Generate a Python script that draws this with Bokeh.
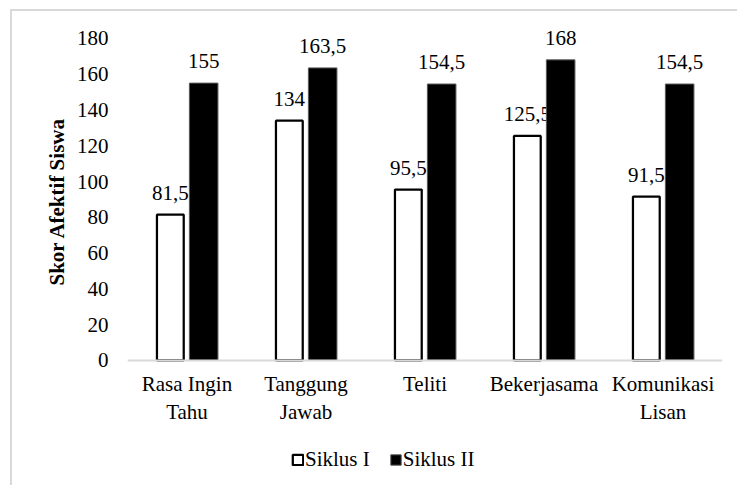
from bokeh.plotting import figure
from bokeh.models import ColumnDataSource, Range1d, FixedTicker, Legend, LegendItem, Title
from bokeh.transform import dodge
from bokeh.core.properties import value
from bokeh.embed import file_html
from bokeh.resources import INLINE

categories = ["Rasa Ingin\nTahu", "Tanggung\nJawab", "Teliti", "Bekerjasama", "Komunikasi\nLisan"]
siklus1 = [81.5, 134, 95.5, 125.5, 91.5]
siklus2 = [155, 163.5, 154.5, 168, 154.5]
series_names = ["Siklus I", "Siklus II"]
y_ticks = [0, 20, 40, 60, 80, 100, 120, 140, 160, 180]
y_title = "Skor Afektif Siswa"

def fmt(v):
    return f"{v:g}".replace(".", ",")

src = ColumnDataSource(dict(
    cat=categories, s1=siklus1, s2=siklus2,
    l1=[fmt(v) for v in siklus1], l2=[fmt(v) for v in siklus2],
))

FONT = "Liberation Serif"
FS = "21px"

p = figure(x_range=categories, y_range=Range1d(-71, 190), width=727, height=476,
           output_backend="svg", toolbar_location=None,
           min_border_left=115, min_border_right=17, min_border_top=9, min_border_bottom=0,
           styles={"border-left": "2px solid #d9d9d9", "border-top": "2px solid #d9d9d9",
                   "margin-left": "10px", "margin-top": "9px"})
p.outline_line_color = None
p.xgrid.grid_line_color = None
p.ygrid.grid_line_color = None
p.x_range.range_padding = 0

r1 = p.vbar(x=dodge("cat", -0.14, range=p.x_range), top="s1", width=0.225, source=src,
            fill_color="white", line_color="black", line_width=2.25)
p.text(x=dodge("cat", -0.14, range=p.x_range), y="s1", text="l1", source=src,
       text_font=value(FONT), text_font_size=FS, text_align="center",
       text_baseline="alphabetic", y_offset=-22, text_color="black")
r2 = p.vbar(x=dodge("cat", 0.14, range=p.x_range), top="s2", width=0.24, source=src,
            fill_color="black", line_color="#595959", line_width=1)
p.text(x=dodge("cat", 0.14, range=p.x_range), y="s2", text="l2", source=src,
       text_font=value(FONT), text_font_size=FS, text_align="center",
       text_baseline="alphabetic", y_offset=-22, text_color="black")

# y axis
ya = p.yaxis[0]
ya.ticker = FixedTicker(ticks=y_ticks)
ya.axis_line_color = None
ya.major_tick_line_color = None
ya.minor_tick_line_color = None
ya.major_tick_out = 0
ya.major_tick_in = 0
ya.major_label_standoff = 19
ya.major_label_text_font = FONT
ya.major_label_text_font_size = FS
ya.major_label_text_color = "black"

ytitle = Title(text=y_title, align="left", offset=202, standoff=10,
               text_font=FONT, text_font_size=FS, text_font_style="bold", text_color="black")
p.add_layout(ytitle, "left")

# x axis, placed at y = 0 inside the frame
xa = p.xaxis[0]
xa.fixed_location = 0
xa.axis_line_color = "#d9d9d9"
xa.axis_line_width = 2
xa.major_tick_line_color = None
xa.minor_tick_line_color = None
xa.major_tick_out = 0
xa.major_tick_in = 0
xa.major_label_standoff = 12
xa.major_label_text_font = FONT
xa.major_label_text_font_size = FS
xa.major_label_text_color = "black"
xa.major_label_text_line_height = 1.15

legend = Legend(items=[LegendItem(label=series_names[0], renderers=[r1]),
                       LegendItem(label=series_names[1], renderers=[r2])],
                orientation="horizontal", location=(164, 15),
                border_line_color=None, background_fill_alpha=0,
                padding=0, margin=0, spacing=19,
                glyph_width=13, glyph_height=13, label_standoff=1,
                label_text_font=FONT, label_text_font_size=FS, label_text_color="black")
p.add_layout(legend, "center")

open("out.html", "w").write(file_html(p, INLINE))
